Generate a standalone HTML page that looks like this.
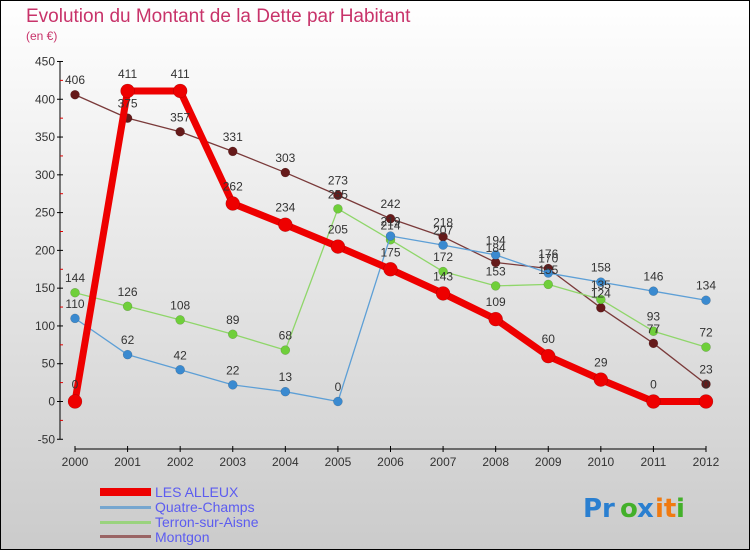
<!DOCTYPE html>
<html><head><meta charset="utf-8"><style>
html,body{margin:0;padding:0}
body{width:750px;height:550px;overflow:hidden;font-family:"Liberation Sans",sans-serif}
</style></head><body>
<svg id="chart" width="750" height="550" viewBox="0 0 750 550" xmlns="http://www.w3.org/2000/svg">
<defs><linearGradient id="bg" x1="0" y1="0" x2="0" y2="1"><stop offset="0" stop-color="#ffffff"/><stop offset="1" stop-color="#cbcbcb"/></linearGradient></defs>
<rect x="0.5" y="0.5" width="749" height="549" fill="url(#bg)" stroke="#000"/>
<text x="26" y="22" font-size="19" fill="#c8336a" font-weight="normal">Evolution du Montant de la Dette par Habitant</text>
<text x="26" y="40" font-size="12" fill="#c8336a">(en €)</text>
<g id="axes"></g>
<g id="series"></g>
<g id="labels"></g>
<g>
<rect x="100" y="488" width="51" height="8" fill="#e00"/>
<text x="155" y="497" font-size="14" fill="#5c5cf0">LES ALLEUX</text>
<rect x="100" y="506" width="51" height="3" fill="#76a6cf"/>
<text x="155" y="512" font-size="14" fill="#5c5cf0">Quatre-Champs</text>
<rect x="100" y="521" width="51" height="3" fill="#9ad37e"/>
<text x="155" y="527" font-size="14" fill="#5c5cf0">Terron-sur-Aisne</text>
<rect x="100" y="535" width="51" height="3" fill="#9a6464"/>
<text x="155" y="542" font-size="14" fill="#5c5cf0">Montgon</text>
</g>
<g font-size="26" font-family="'DejaVu Sans',sans-serif" font-weight="bold">
<text x="583" y="517" fill="#2a7fd0">Pr</text><text x="620" y="517" fill="#43b02a">o</text><text x="637" y="517" fill="#2a7fd0">x</text><text x="655" y="517" fill="#f07a10">it</text><text x="676" y="517" fill="#43b02a">i</text>
</g>
</svg>
<script>
const years = [2000,2001,2002,2003,2004,2005,2006,2007,2008,2009,2010,2011,2012];
const yTicks = [450,400,350,300,250,200,150,100,50,0,-50];
const lesAlleux = [0,411,411,262,234,205,175,143,109,60,29,0,0];
const quatreChamps = [110,62,42,22,13,0,219,207,194,170,158,146,134];
const terron = [144,126,108,89,68,255,214,172,153,155,135,93,72];
const montgon = [406,375,357,331,303,273,242,218,184,176,124,77,23];
const NS='http://www.w3.org/2000/svg';
const x = i => 75 + i*(706-75)/(years.length-1);
const y = v => 401.5 - v*0.7556;
function mk(tag, attrs, parent){const e=document.createElementNS(NS,tag);for(const k in attrs)e.setAttribute(k,attrs[k]);parent.appendChild(e);return e;}
const axes=document.getElementById('axes');
let e=mk('line',{x1:60,y1:y(450),x2:60,y2:y(-50),stroke:'#000','stroke-width':1},axes);


yTicks.forEach((t,k)=>{
  mk('line',{x1:57,x2:63,y1:y(t),y2:y(t),stroke:'#000'},axes);
  if(k<yTicks.length-1) mk('line',{x1:60,x2:63,y1:y(t-25),y2:y(t-25),stroke:'#d00'},axes);
  const tx=mk('text',{x:55,y:y(t)+4,'font-size':12,fill:'#333','text-anchor':'end'},axes);
  
  
  tx.textContent=t;
});
e=mk('line',{x1:75,y1:449,x2:706,y2:449,stroke:'#000'},axes);


years.forEach((yr,i)=>{
  mk('line',{x1:x(i),x2:x(i),y1:446,y2:452,stroke:'#000'},axes);
  const tx=mk('text',{x:x(i),y:466,'font-size':12,fill:'#333','text-anchor':'middle'},axes);
  
  
  tx.textContent=yr;
});
const series=document.getElementById('series'), labels=document.getElementById('labels');
function draw(vals,name,color,dot,w,r){
  const g=mk('g',{},series);
  
  
  const p=mk('polyline',{points:vals.map((v,i)=>x(i)+','+y(v)).join(' '),fill:'none',stroke:color,'stroke-width':w,'stroke-linejoin':'round'},g);
  
  
  vals.forEach((v,i)=>{
    const c=mk('circle',{cx:x(i),cy:y(v),r:r,fill:dot,stroke:'rgba(0,0,0,0.25)','stroke-width':0.5},g);
    
    
    const t=mk('text',{x:x(i),y:y(v)-(r+6),'font-size':12,fill:'#333','text-anchor':'middle'},labels);
    
    
    t.textContent=v;
  });
}
draw(montgon,'montgon','#7a3a3a','#661a1a',1.3,4.5);
draw(terron,'terron-sur-aisne','#8fd66a','#6fcf3a',1.3,4.5);
draw(quatreChamps,'quatre-champs','#5d9fd6','#3a8ad0',1.3,4.5);
draw(lesAlleux,'les-alleux','#ee0000','#ee0000',7,7);
</script>
</body></html>
